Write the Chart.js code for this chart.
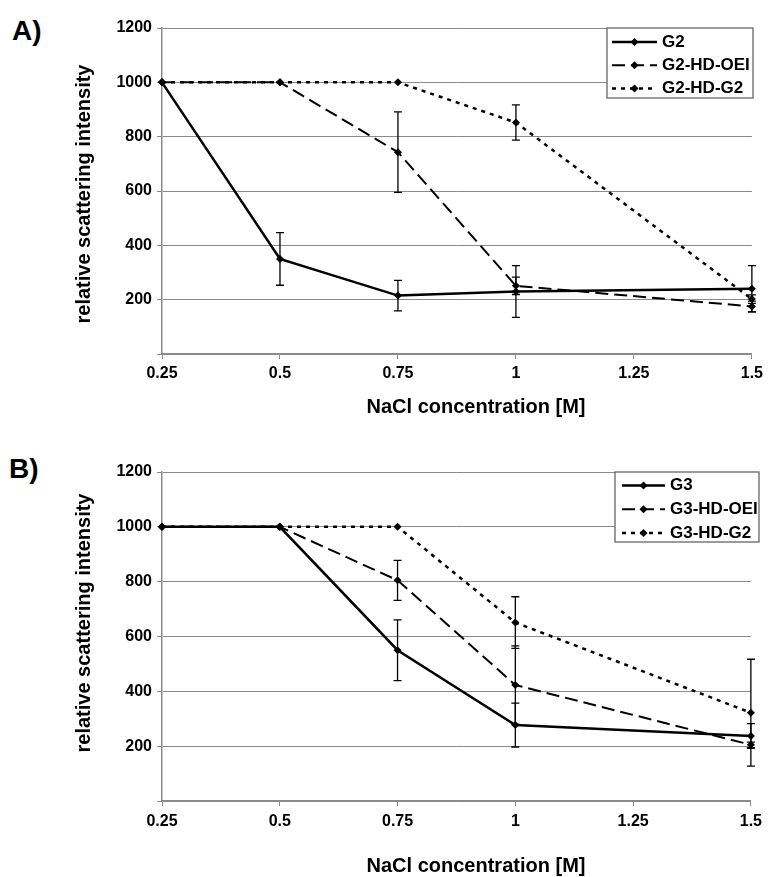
<!DOCTYPE html>
<html>
<head>
<meta charset="utf-8">
<script src="https://cdn.jsdelivr.net/npm/chart.js@4.4.0/dist/chart.umd.min.js"></script>
<style>
  html, body { margin: 0; padding: 0; background: #fff; }
  body { width: 768px; height: 877px; position: relative; overflow: hidden; }
  .panel { position: absolute; left: 0; }
  .tag { position: absolute; font: bold 28px/28px "Liberation Sans", Arial, sans-serif; color: #000; }
</style>
</head>
<body>
<div class="tag" style="left:12px;top:17px">A)</div>
<div class="tag" style="left:9px;top:455px">B)</div>
<canvas id="chartA" class="panel" style="top:0" width="768" height="430"></canvas>
<canvas id="chartB" class="panel" style="top:430px" width="768" height="447"></canvas>
<script>
// --- data ---
const conc = [0.25, 0.5, 0.75, 1, 1.5];
const xTicks = [0.25, 0.5, 0.75, 1, 1.25, 1.5];
const xTickLabels = ['0.25', '0.5', '0.75', '1', '1.25', '1.5'];
const yTicks = [200, 400, 600, 800, 1000, 1200];

// panel A
const g2 = [1000, 350, 215, 230, 240];
const g2Err = [0, 97, 56, 95, 85];
const g2HdOei = [1000, 1000, 743, 251, 175];
const g2HdOeiErr = [0, 0, 148, 32, 20];
const g2HdG2 = [1000, 1000, 1000, 852, 202];
const g2HdG2Err = [0, 0, 0, 65, 16];

// panel B
const g3 = [1000, 1000, 550, 277, 237];
const g3Err = [0, 0, 111, 80, 45];
const g3HdOei = [1000, 1000, 805, 423, 205];
const g3HdOeiErr = [0, 0, 73, 143, 10];
const g3HdG2 = [1000, 1000, 1000, 651, 322];
const g3HdG2Err = [0, 0, 0, 94, 195];

const FONT = '"Liberation Sans", Arial, sans-serif';
const GRID = '#8a8a8a';

// --- error bars drawn through the scales ---
const errorBars = {
  id: 'errorBars',
  afterDatasetsDraw(chart) {
    const { ctx } = chart;
    const xs = chart.scales.x, ys = chart.scales.y;
    ctx.save();
    ctx.strokeStyle = '#000';
    ctx.lineWidth = 1.3;
    ctx.setLineDash([]);
    chart.data.datasets.forEach(ds => {
      (ds.errors || []).forEach((e, i) => {
        if (!e) return;
        const p = ds.data[i];
        const px = xs.getPixelForValue(p.x);
        const yTop = ys.getPixelForValue(p.y + e);
        const yBot = ys.getPixelForValue(p.y - e);
        ctx.beginPath();
        ctx.moveTo(px, yTop); ctx.lineTo(px, yBot);
        ctx.moveTo(px - 4, yTop); ctx.lineTo(px + 4, yTop);
        ctx.moveTo(px - 4, yBot); ctx.lineTo(px + 4, yBot);
        ctx.stroke();
      });
    });
    ctx.restore();
  }
};

// --- boxed legend like the original ---
const boxLegend = {
  id: 'boxLegend',
  afterDraw(chart, args, o) {
    const { ctx } = chart;
    ctx.save();
    ctx.fillStyle = '#fff';
    ctx.fillRect(o.x, o.y, o.w, o.h);
    ctx.strokeStyle = '#666';
    ctx.lineWidth = 1.3;
    ctx.strokeRect(o.x, o.y, o.w, o.h);
    ctx.font = 'bold 17px ' + FONT;
    ctx.textBaseline = 'middle';
    ctx.fillStyle = '#000';
    chart.data.datasets.forEach((ds, i) => {
      const y = o.y + o.rowTop + i * o.rowGap;
      ctx.beginPath();
      ctx.strokeStyle = '#000';
      ctx.lineWidth = ds.borderWidth;
      ctx.setLineDash(ds.borderDash || []);
      ctx.moveTo(o.x0, y); ctx.lineTo(o.x1, y);
      ctx.stroke();
      ctx.setLineDash([]);
      const m = (o.x0 + o.x1) / 2;
      ctx.beginPath();
      ctx.moveTo(m, y - 4); ctx.lineTo(m + 4, y); ctx.lineTo(m, y + 4); ctx.lineTo(m - 4, y);
      ctx.closePath();
      ctx.fill();
      ctx.fillText(ds.label, o.tx, y);
    });
    ctx.restore();
  }
};

// --- axis titles, placed where the original has them ---
const axisTitles = {
  id: 'axisTitles',
  afterDraw(chart, args, o) {
    const { ctx } = chart;
    ctx.save();
    ctx.font = 'bold 20px ' + FONT;
    ctx.fillStyle = '#000';
    ctx.textAlign = 'center';
    ctx.textBaseline = 'middle';
    ctx.fillText(o.xText, o.xX, o.xY);
    ctx.translate(o.yX, o.yY);
    ctx.rotate(-Math.PI / 2);
    ctx.fillText(o.yText, 0, 0);
    ctx.restore();
  }
};

function series(label, vals, errs, style) {
  return Object.assign({
    label: label,
    data: conc.map((c, i) => ({ x: c, y: vals[i] })),
    errors: errs,
    borderColor: '#000',
    backgroundColor: '#000',
    pointStyle: 'rectRot',
    pointRadius: 4,
    pointBorderWidth: 0,
    pointBackgroundColor: '#000',
    tension: 0,
    clip: false
  }, style);
}

const solid = { borderWidth: 2.5 };
const dashed = { borderWidth: 2, borderDash: [13, 6] };
const dotted = { borderWidth: 2.5, borderDash: [4, 5] };

function makeChart(id, sets, geo) {
  return new Chart(document.getElementById(id), {
    type: 'line',
    data: { datasets: sets },
    options: {
      responsive: false,
      animation: false,
      devicePixelRatio: 1,
      layout: { padding: { top: geo.top, left: 60, right: geo.right, bottom: 0 } },
      plugins: {
        legend: { display: false },
        tooltip: { enabled: false },
        boxLegend: geo.legend,
        axisTitles: Object.assign({
          xText: 'NaCl concentration [M]',
          yText: 'relative scattering intensity'
        }, geo.titles)
      },
      scales: {
        x: {
          type: 'linear',
          min: 0.25,
          max: 1.5,
          afterBuildTicks: s => { s.ticks = xTicks.map(v => ({ value: v })); },
          afterFit: s => { s.height = geo.xHeight; },
          ticks: {
            color: '#000',
            padding: geo.xTickPad,
            maxRotation: 0,
            font: { family: FONT, size: 16, weight: 'bold' },
            callback: (v) => xTickLabels[xTicks.indexOf(v)]
          },
          grid: { drawOnChartArea: false, drawTicks: true, tickLength: 5, color: GRID },
          border: { color: GRID, width: 1.5 }
        },
        y: {
          min: 0,
          max: 1200,
          afterBuildTicks: s => { s.ticks = [0].concat(yTicks).map(v => ({ value: v })); },
          afterFit: s => { s.width = 102; },
          ticks: {
            color: '#000',
            padding: 5,
            font: { family: FONT, size: 16, weight: 'bold' },
            callback: v => (yTicks.includes(v) ? String(v) : '')
          },
          grid: { color: GRID, lineWidth: 1, tickLength: 5 },
          border: { color: GRID, width: 1.5 }
        }
      }
    },
    plugins: [errorBars, boxLegend, axisTitles]
  });
}

makeChart('chartA', [
  series('G2', g2, g2Err, solid),
  series('G2-HD-OEI', g2HdOei, g2HdOeiErr, dashed),
  series('G2-HD-G2', g2HdG2, g2HdG2Err, dotted)
], {
  top: 28, right: 16, xHeight: 76, xTickPad: 5,
  legend: { x: 607, y: 28, w: 146, h: 70, rowTop: 14, rowGap: 23.3, x0: 612, x1: 657, tx: 662 },
  titles: { xX: 476, xY: 407, yX: 84, yY: 194 }
});

makeChart('chartB', [
  series('G3', g3, g3Err, solid),
  series('G3-HD-OEI', g3HdOei, g3HdOeiErr, dashed),
  series('G3-HD-G2', g3HdG2, g3HdG2Err, dotted)
], {
  top: 42, right: 12, xHeight: 76, xTickPad: 6,
  legend: { x: 615, y: 42, w: 144, h: 70, rowTop: 13.5, rowGap: 23.7, x0: 622, x1: 665, tx: 670 },
  titles: { xX: 476, xY: 436, yX: 84, yY: 193 }
});
</script>
</body>
</html>
